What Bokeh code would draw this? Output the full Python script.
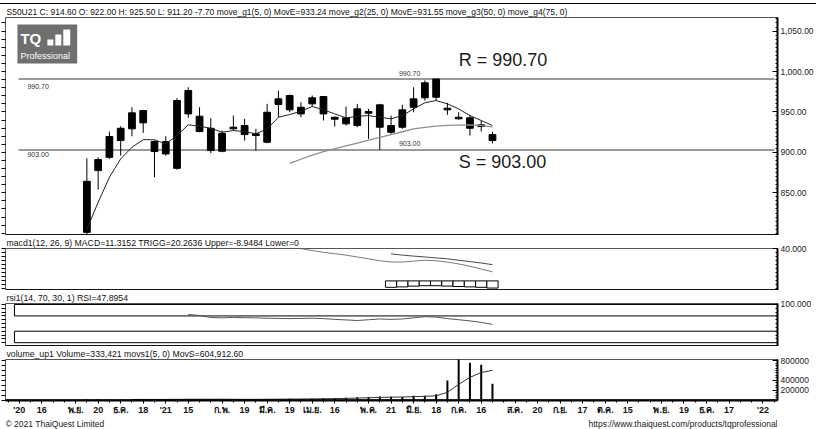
from bokeh.plotting import figure
from bokeh.layouts import column
from bokeh.models import Range1d, LinearAxis, FixedTicker, NumeralTickFormatter, Label, ColumnDataSource, Span
from bokeh.embed import file_html
from bokeh.resources import INLINE
from bokeh.core.properties import value

# ---------------- data (S50U21, weekly) ----------------
weeks = list(range(37))
opens = [801.1, 877.5, 893.9, 914.6, 929.1, 951.7, 913.4, 898.1, 880.3, 947.6,
         944.7, 929.8, 901.4, 929.1, 933.2, 922.9, 912.5, 959.2, 970.3, 955.8,
         960.0, 969.1, 943.4, 942.7, 933.2, 950.5, 958.8, 933.2, 931.1, 955.8,
         967.5, 968.2, 954.6, 943.4, 942.7, 931.9, 922.0]
highs = [892.7, 893.9, 925.7, 932.3, 955.8, 952.6, 914.6, 919.9, 967.0, 980.6,
         955.8, 942.2, 927.0, 945.5, 941.5, 929.1, 960.0, 976.5, 971.5, 962.0,
         970.3, 969.1, 944.3, 956.7, 960.0, 953.8, 960.0, 945.5, 958.8, 980.6,
         988.9, 990.7, 961.3, 949.6, 946.4, 939.4, 925.5]
lows = [790.0, 854.0, 892.0, 896.0, 919.9, 924.1, 869.2, 896.0, 878.5, 942.7,
        924.9, 898.9, 900.1, 927.0, 914.6, 902.2, 911.3, 943.4, 949.6, 943.4,
        956.7, 939.4, 931.9, 933.2, 931.1, 916.7, 903.0, 922.9, 929.1, 949.6,
        964.1, 964.1, 946.4, 940.6, 920.8, 925.7, 911.2]
closes = [864.2, 891.1, 919.6, 929.8, 948.9, 936.5, 901.0, 913.4, 964.1, 976.5,
          925.7, 902.2, 923.6, 931.1, 922.0, 920.8, 949.6, 966.2, 952.6, 947.6,
          967.5, 947.6, 941.0, 935.3, 953.8, 948.4, 931.1, 924.9, 952.6, 966.2,
          986.0, 990.7, 952.6, 941.5, 929.8, 934.0, 914.6]
ema5 = [805.0, 838.3, 869.2, 892.0, 906.3, 915.8, 915.5, 910.5, 920.8, 934.0,
        932.3, 929.8, 924.9, 927.0, 925.7, 922.9, 929.1, 943.4, 946.8, 950.9,
        956.7, 952.6, 947.6, 942.7, 944.5, 945.5, 943.4, 941.5, 945.5, 953.8,
        961.3, 964.1, 960.0, 953.8, 945.5, 939.4, 933.24]
ema25_weeks = list(range(18, 37))
ema25 = [886.5, 891.5, 896.5, 901.0, 904.5, 908.0, 911.5, 915.0, 918.5, 922.0,
         925.5, 929.0, 931.0, 932.5, 933.3, 933.8, 934.0, 933.2, 931.55]
macd_weeks = list(range(19, 37))
macd = [40.3, 38.0, 35.7, 34.0, 32.2, 29.9, 27.6, 25.2, 23.7, 23.5,
        24.7, 25.8, 25.2, 23.5, 21.2, 18.3, 14.8, 11.3152]
trigg_weeks = list(range(27, 37))
trigg = [33.8, 32.2, 31.0, 29.9, 28.7, 27.6, 25.8, 24.1, 22.4, 20.2636]
hist = [-8.0, -7.5, -6.5, -6.0, -6.0, -6.5, -7.0, -7.5, -8.0, -8.9484]
rsi_weeks = list(range(9, 37))
rsi = [74.0, 71.0, 66.0, 65.0, 66.0, 65.5, 65.0, 64.0, 63.5, 63.0,
       63.5, 64.0, 63.0, 61.0, 59.5, 58.0, 60.0, 62.0, 61.0, 62.0,
       65.0, 68.0, 67.0, 63.0, 60.0, 57.0, 53.0, 47.8954]
volume = [12000, 15000, 10000, 12000, 10000, 15000, 14000, 12000, 20000, 18000,
          15000, 17000, 14000, 12000, 15000, 17000, 22000, 20000, 25000, 22000,
          28000, 35000, 40000, 45000, 55000, 60000, 70000, 65000, 60000, 87000,
          87000, 117000, 395000, 828000, 759000, 717000, 333421]
movs_weeks = list(range(4, 37))
movs = [12000, 12500, 13000, 13000, 14500, 16000, 16500, 16500, 17000, 15500,
        14500, 15000, 16000, 17500, 20000, 21500, 23500, 26000, 30000, 34000,
        40000, 47000, 54000, 59000, 62000, 70000, 76000, 87000, 155000, 320000,
        460000, 560000, 604912.60]
tick_weeks = [-6, -4, -1, 1, 3, 5, 7, 9, 12, 14, 16, 18, 20, 22, 25, 27, 29, 31,
              33, 35, 38, 40, 42, 44, 46, 48, 51, 53, 55, 57, 60]
tick_labels = ["'20", "16", "พ.ย.", "20", "ธ.ค.", "18", "'21", "15", "ก.พ.", "19",
               "มี.ค.", "19", "เม.ย.", "16", "พ.ค.", "21", "มิ.ย.", "18", "ก.ค.", "16",
               "ส.ค.", "20", "ก.ย.", "17", "ต.ค.", "15", "พ.ย.", "19", "ธ.ค.", "17", "'22"]
resistance = 990.70
support = 903.00
price_ticks = [850, 900, 950, 1000, 1050]

# ---------------- layout helpers ----------------
FONT = "Liberation Sans"
W = 816
FL, FR = 5, 36
WK_PX, WK0_PX = 11.31, 86.7


def wx(px):
    return (px - WK0_PX) / WK_PX


def my(py):
    return 1000 - (py - 71) / 0.8087


xr = Range1d(wx(5), wx(780))


def base(h, top, yr, bottom=0, title="", title_size="8.7px"):
    p = figure(width=W, height=h, x_range=xr, y_range=yr, title=title,
               output_backend="svg", toolbar_location=None,
               x_axis_location=None, y_axis_location=None,
               min_border_left=FL, min_border_right=FR,
               min_border_top=top, min_border_bottom=bottom,
               outline_line_color="#555555", outline_line_width=1,
               background_fill_color="white", border_fill_color="white")
    p.xgrid.visible = False
    p.ygrid.visible = False
    p.title.text_font = FONT
    p.title.text_font_size = title_size
    p.title.text_font_style = "normal"
    p.title.text_color = "#111111"
    p.title.align = "left"
    p.title.offset = 1
    p.title.standoff = 1
    # thick separator under each panel
    p.add_layout(Span(location=yr.start, dimension="width", line_color="black", line_width=2.5))
    return p


def right_axis(p, ticks, minor, fmt):
    ax = LinearAxis(ticker=FixedTicker(ticks=ticks, minor_ticks=minor),
                    formatter=NumeralTickFormatter(format=fmt),
                    major_tick_in=5, major_tick_out=0, minor_tick_in=2, minor_tick_out=0,
                    axis_line_width=2, major_label_standoff=3,
                    major_label_text_font=FONT, major_label_text_font_size="8.5px",
                    major_label_text_color="#222222")
    p.add_layout(ax, "right")


def left_axis(p, minor):
    # tick marks only (minor ticks carry no labels)
    ax = LinearAxis(ticker=FixedTicker(ticks=[], minor_ticks=minor), major_tick_in=0,
                    major_tick_out=0, minor_tick_in=0, minor_tick_out=4,
                    major_label_standoff=0, axis_line_color=None)
    p.add_layout(ax, "left")


def value_box(p, x, y, text):
    p.add_layout(Label(x=x, y=y, x_offset=1, text=text, text_font=FONT,
                       text_font_size="8.5px", text_color="white",
                       background_fill_color="black", text_baseline="middle",
                       text_align="left"))


# ---------------- main price panel ----------------
hdr = ("S50U21 C: 914.60 O: 922.00 H: 925.50 L: 911.20 -7.70 move_g1(5, 0) MovE=933.24 "
       "move_g2(25, 0) MovE=931.55 move_g3(50, 0) move_g4(75, 0)")
pm = base(231, 13, Range1d(my(235), my(17)), title=hdr, title_size="8.5px")
right_axis(pm, price_ticks, list(range(800, 1070, 5)), "0,0.00")
left_axis(pm, list(range(800, 1070, 10)))

src = ColumnDataSource(dict(
    w=weeks, o=opens, h=highs, l=lows, c=closes,
    top=[max(a, b) for a, b in zip(opens, closes)],
    bot=[min(a, b) for a, b in zip(opens, closes)]))

# logo
pm.quad(left=wx(17), right=wx(77), top=my(24), bottom=my(63), fill_color="#6f6f6f", line_color=None)
pm.quad(left=[wx(47), wx(55), wx(63)], right=[wx(53), wx(61), wx(70)],
        top=[my(39), my(34), my(29)], bottom=[my(45)] * 3, fill_color="white", line_color=None)
pm.text(x=[wx(20)], y=[my(38)], text=["TQ"], text_font=value(FONT), text_font_size="15px",
        text_font_style="bold", text_color="white", text_baseline="middle")
pm.text(x=[wx(20)], y=[my(55)], text=["Professional"], text_font=value(FONT), text_font_size="9px",
        text_color="white", text_baseline="middle")

# support / resistance levels
lvl_x0, lvl_x1 = wx(18), wx(777)
pm.segment(x0=[lvl_x0] * 2, x1=[lvl_x1] * 2, y0=[resistance, support], y1=[resistance, support],
           line_color="#9a9a9a", line_width=2)

pm.segment(x0="w", y0="l", x1="w", y1="h", source=src, line_color="black", line_width=1)
pm.vbar(x="w", top="top", bottom="bot", width=0.6, source=src, fill_color="black", line_color="black")
pm.line(weeks, ema5, line_color="#222222", line_width=1)
pm.line(ema25_weeks, ema25, line_color="#8f8f8f", line_width=1.3)

for txt, x, y, size in [
    ("R = %.2f" % resistance, wx(460), resistance + 19 / 0.8087, "18px"),
    ("S = %.2f" % support, wx(460), support - 12 / 0.8087, "18px"),
]:
    pm.add_layout(Label(x=x, y=y, text=txt, text_font=FONT, text_font_size=size,
                        text_color="#1a1a1a", text_baseline="middle"))
for lvl, d_left, d_mid in [(resistance, -7, 6), (support, -5, 6)]:
    pm.add_layout(Label(x=wx(27), y=lvl + d_left / 0.8087, text="%.2f" % lvl, text_font=FONT,
                        text_font_size="7px", text_color="#333333", text_baseline="middle"))
    pm.add_layout(Label(x=wx(400), y=lvl + d_mid / 0.8087, text="%.2f" % lvl, text_font=FONT,
                        text_font_size="7px", text_color="#333333", text_baseline="middle"))
pm.add_layout(Label(x=wx(746), y=my(10.5), text="weekly", text_font=FONT, text_font_size="8.5px",
                    text_color="#111111", text_baseline="middle"))
value_box(pm, xr.end, ema25[-1], "%.2f" % ema25[-1])
value_box(pm, xr.end, closes[-1], "%.2f" % closes[-1])

# ---------------- MACD panel ----------------
pmacd = base(55, 11, Range1d(-12, 40.5),
             title="macd1(12, 26, 9) MACD=11.3152 TRIGG=20.2636 Upper=-8.9484 Lower=0")
right_axis(pmacd, [40], list(range(-10, 41, 5)), "0.000")
left_axis(pmacd, list(range(-10, 41, 5)))
pmacd.vbar(x=trigg_weeks, top=0, bottom=hist, width=1.0, fill_color="white", line_color="black")
pmacd.line(macd_weeks, macd, line_color="#7a7a7a", line_width=1)
pmacd.line(trigg_weeks, trigg, line_color="#4a4a4a", line_width=1)
value_box(pmacd, xr.end, trigg[-1], "%.4f" % trigg[-1])
value_box(pmacd, xr.end, macd[-1], "%.4f" % macd[-1])

# ---------------- RSI panel ----------------
prsi = base(56, 11, Range1d(-10, 102.5), title="rsi1(14, 70, 30, 1) RSI=47.8954")
right_axis(prsi, [100], list(range(0, 101, 10)), "0.000")
left_axis(prsi, list(range(0, 101, 10)))
prsi.quad(left=[wx(14)] * 2, right=[xr.end + 1] * 2, top=[100, 30], bottom=[70, 0],
          fill_color=None, line_color="black")
prsi.line(rsi_weeks, rsi, line_color="#555555", line_width=1)
value_box(prsi, xr.end, rsi[-1], "%.4f" % rsi[-1])

# ---------------- Volume panel ----------------
pv = base(71, 11, Range1d(-9000, 824000), bottom=15,
          title="volume_up1 Volume=333,421 movs1(5, 0) MovS=604,912.60")
right_axis(pv, [200000, 400000, 800000], list(range(0, 820001, 50000)), "0")
left_axis(pv, list(range(0, 820001, 100000)))
pv.segment(x0=weeks, x1=weeks, y0=[0] * len(weeks), y1=volume, line_color="black", line_width=2)
pv.line(movs_weeks, movs, line_color="#333333", line_width=1)
bax = LinearAxis(ticker=FixedTicker(ticks=tick_weeks, minor_ticks=list(range(-7, 62))),
                 major_label_overrides={t: s for t, s in zip(tick_weeks, tick_labels)},
                 axis_line_width=2, major_tick_out=3, major_tick_in=0, minor_tick_out=2,
                 major_label_standoff=1, major_label_text_font=FONT,
                 major_label_text_font_size="9px", major_label_text_font_style="bold",
                 major_label_text_color="#111111")
pv.add_layout(bax, "below")

# ---------------- footer ----------------
pf = figure(width=W, height=12, x_range=Range1d(5, 816), y_range=Range1d(0, 12),
            output_backend="svg", toolbar_location=None,
            x_axis_location=None, y_axis_location=None,
            min_border_left=5, min_border_right=0, min_border_top=0, min_border_bottom=0,
            outline_line_color=None)
pf.xgrid.visible = False
pf.ygrid.visible = False
pf.add_layout(Label(x=5, y=5.5, text="© 2021 ThaiQuest Limited", text_font=FONT,
                    text_font_size="8.5px", text_baseline="middle", text_color="#222222"))
pf.add_layout(Label(x=816, y=5.5, text="https://www.thaiquest.com/products/tqprofessional",
                    text_font=FONT, text_font_size="8.5px", text_baseline="middle",
                    text_align="right", text_color="#222222"))

layout = column(pm, pmacd, prsi, pv, pf, spacing=0, margin=(3, 0, 0, 0),
                styles={"border-top": "1px solid black"})
open("out.html", "w").write(file_html(layout, INLINE))
